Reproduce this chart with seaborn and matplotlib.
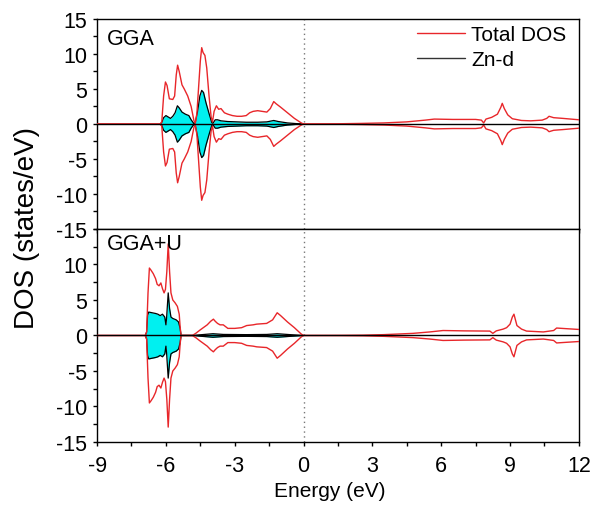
import seaborn as sns
import matplotlib.pyplot as plt
import numpy as np

sns.set_style("ticks")
plt.rcParams['font.family'] = ['Liberation Sans', 'DejaVu Sans']
plt.rcParams['axes.unicode_minus'] = False
plt.rcParams['text.color'] = 'black'
plt.rcParams['xtick.color'] = 'black'
plt.rcParams['ytick.color'] = 'black'

# GGA total DOS (spin up; spin down mirrored)
gga_tot_e = [-9.0, -6.25, -6.18, -6.1, -6.02, -5.95, -5.85, -5.7, -5.62, -5.55, -5.49, -5.42,
             -5.3, -5.2, -5.05, -4.9, -4.78, -4.72, -4.65, -4.58, -4.5, -4.44, -4.38, -4.3,
             -4.22, -4.12, -4.03, -3.97, -3.9, -3.8, -3.7, -3.6, -3.45, -3.3, -3.1, -2.9,
             -2.7, -2.5, -2.35, -2.2, -2.0, -1.8, -1.6, -1.45, -1.3, -1.2, -1.0, -0.7, -0.4,
             -0.1, 0.0, 0.5, 1.5, 2.5, 3.5, 4.5, 5.3, 5.7, 6.5, 7.5, 7.75, 7.85, 7.95, 8.2,
             8.45, 8.6, 8.66, 8.75, 8.9, 9.1, 9.5, 9.9, 10.4, 10.6, 10.7, 10.9, 11.3, 12.0]
gga_tot = [0, 0, 0.3, 4.0, 6.0, 5.5, 3.6, 3.5, 4.0, 7.0, 8.4, 7.5,
           5.6, 5.0, 4.0, 2.5, 0.5, 0.1, 1.5, 5.0, 9.0, 10.9, 10.2, 9.8,
           8.0, 4.0, 1.0, 0.3, 1.8, 2.6, 2.1, 2.2, 1.6, 1.4, 1.2, 1.1,
           1.1, 1.2, 1.6, 1.8, 1.9, 1.8, 1.7, 2.2, 3.2, 2.9, 2.4, 1.6, 0.8,
           0.15, 0, 0.01, 0.03, 0.08, 0.15, 0.3, 0.55, 0.7, 0.65, 0.65, 0.55, 0.15, 0.7, 0.95,
           1.4, 2.4, 2.95, 2.2, 1.3, 0.75, 0.5, 0.45, 0.55, 0.8, 1.1, 0.9, 0.8, 0.6]

# GGA Zn-d
gga_znd_e = [-6.25, -6.18, -6.1, -6.0, -5.9, -5.8, -5.7, -5.6, -5.5, -5.42, -5.3, -5.15,
             -5.0, -4.9, -4.78, -4.72, -4.62, -4.52, -4.44, -4.36, -4.25, -4.12, -4.0,
             -3.95, -3.85, -3.75, -3.6, -3.3, -2.9, -2.5, -2.0, -1.6, -1.3, -1.1, -0.7,
             -0.3, 0.0]
gga_znd = [0, 0.2, 0.9, 1.2, 1.0, 0.8, 1.1, 1.6, 2.6, 2.3, 1.7, 1.4,
           1.2, 0.6, 0.05, 0.2, 1.8, 4.0, 4.8, 4.5, 3.0, 1.5, 0.2,
           0.1, 0.6, 0.6, 0.45, 0.35, 0.3, 0.25, 0.25, 0.3, 0.5, 0.35, 0.15,
           0.05, 0]

# GGA+U total DOS
ggau_tot_e = [-9.0, -6.9, -6.84, -6.78, -6.72, -6.65, -6.55, -6.45, -6.38, -6.3, -6.22,
              -6.15, -6.08, -6.02, -5.96, -5.9, -5.84, -5.78, -5.7, -5.6, -5.5, -5.42,
              -5.38, -5.34, -4.85, -4.7, -4.5, -4.2, -4.05, -3.93, -3.85, -3.75, -3.64,
              -3.5, -3.3, -3.0, -2.7, -2.48, -2.2, -2.04, -1.61, -1.35, -1.15, -1.0, -0.7,
              -0.4, -0.1, 0.0, 1.0, 2.6, 3.5, 4.77, 5.5, 6.08, 7.0, 8.12, 8.25, 8.4, 8.7,
              8.85, 9.0, 9.1, 9.17, 9.3, 9.5, 9.72, 10.45, 10.9, 11.03, 11.5, 12.0]
ggau_tot = [0, 0, 0.5, 6.0, 9.5, 9.2, 8.7, 8.0, 7.2, 7.0, 7.4,
            6.6, 6.0, 6.5, 9.0, 12.9, 9.0, 6.0, 5.0, 4.6, 4.1, 3.0,
            1.2, 0, 0, 0.3, 0.8, 1.5, 2.0, 2.3, 2.0, 1.7, 1.5,
            1.5, 1.0, 1.0, 1.1, 1.4, 1.5, 1.6, 1.7, 2.2, 3.2, 2.8, 1.9,
            1.1, 0.2, 0, 0.01, 0.05, 0.12, 0.3, 0.5, 0.7, 0.65, 0.62, 0.3, 0.65, 0.9,
            1.1, 1.6, 2.6, 3.0, 1.4, 0.9, 0.62, 0.5, 0.7, 1.05, 0.95, 0.85]

# GGA+U Zn-d
ggau_znd_e = [-6.9, -6.84, -6.8, -6.75, -6.6, -6.45, -6.35, -6.25, -6.15, -6.05, -6.0,
              -5.97, -5.9, -5.84, -5.78, -5.7, -5.55, -5.45, -5.38, -5.34, -4.8, -4.5,
              -3.95, -3.5, -2.5, -1.6, -1.15, -0.5, 0.0]
ggau_znd = [0, 0.5, 2.8, 3.3, 3.2, 3.1, 3.0, 2.8, 3.0, 2.6, 1.5,
            2.5, 6.0, 3.8, 2.6, 2.4, 2.2, 1.9, 1.0, 0, 0, 0.1,
            0.25, 0.15, 0.12, 0.15, 0.25, 0.1, 0]

panels = [("GGA", gga_tot_e, gga_tot, gga_znd_e, gga_znd),
          ("GGA+U", ggau_tot_e, ggau_tot, ggau_znd_e, ggau_znd)]

red = "#e8262a"
cyan = "#00f0f0"

fig = plt.figure(figsize=(6.03, 5.06), dpi=100)
ax_top = fig.add_axes([0.161, 0.5455, 0.799, 0.415])
ax_bot = fig.add_axes([0.161, 0.1245, 0.799, 0.421])

for ax, (name, te, tv, ze, zv) in zip([ax_top, ax_bot], panels):
    te = np.array(te); tv = np.array(tv)
    ze = np.array(ze); zv = np.array(zv)
    ax.fill_between(ze, zv, -zv, color=cyan, lw=0, zorder=1)
    sns.lineplot(x=ze, y=zv, ax=ax, color="black", lw=0.9, estimator=None, sort=False, zorder=2)
    sns.lineplot(x=ze, y=-zv, ax=ax, color="black", lw=0.9, estimator=None, sort=False, zorder=2)
    sns.lineplot(x=te, y=tv, ax=ax, color=red, lw=1.0, estimator=None, sort=False, zorder=3)
    sns.lineplot(x=te, y=-tv, ax=ax, color=red, lw=1.0, estimator=None, sort=False, zorder=3)
    ax.axhline(0, color="black", lw=1.0, zorder=4)
    ax.axvline(0, color="#777777", lw=1.0, ls=(0, (1, 2.5)), zorder=0)
    ax.set_xlim(-9, 12)
    ax.set_ylim(-15, 15)
    ax.set_xticks(np.arange(-9, 13, 3))
    ax.set_xticks(np.arange(-9, 12.1, 1.5), minor=True)
    ax.set_yticks(np.arange(-15, 16, 5))
    ax.set_yticks(np.arange(-15, 15.1, 2.5), minor=True)
    ax.tick_params(axis="both", which="both", direction="out", length=3, width=1,
                   labelsize=15.5, top=False, right=False, color="black", labelcolor="black")
    ax.tick_params(axis="y", pad=4)
    ax.tick_params(axis="x", pad=6)
    for s in ax.spines.values():
        s.set_visible(True)
        s.set_linewidth(1.0)
        s.set_color("black")
    ax.set_xlabel("")
    ax.set_ylabel("")
    ax.text(0.02, 0.905 if name == "GGA" else 0.93, name, transform=ax.transAxes,
            fontsize=15.5, ha="left", va="center", color="black")

ax_top.set_xticklabels([])
ax_bot.set_yticks(np.arange(-15, 11, 5))
ax_bot.set_yticks(np.arange(-15, 15.1, 2.5), minor=True)

handles = [plt.Line2D([], [], color=red, lw=1.0), plt.Line2D([], [], color="#333333", lw=1.0)]
ax_top.legend(handles, ["Total DOS", "Zn-d"], loc="upper right", frameon=False, fontsize=15,
              handlelength=2.3, handletextpad=0.3, labelspacing=0.3,
              bbox_to_anchor=(1.0, 1.03), borderaxespad=0.2, labelcolor="black")

fig.text(27 / 603, 1 - 228 / 506, "DOS (states/eV)", rotation=90, fontsize=20,
         ha="center", va="center", color="black")
fig.text(330 / 603, 1 - 492 / 506, "Energy (eV)", fontsize=15, ha="center", va="center",
         color="black")

fig.savefig("out.png", dpi=100)
plt.close(fig)
